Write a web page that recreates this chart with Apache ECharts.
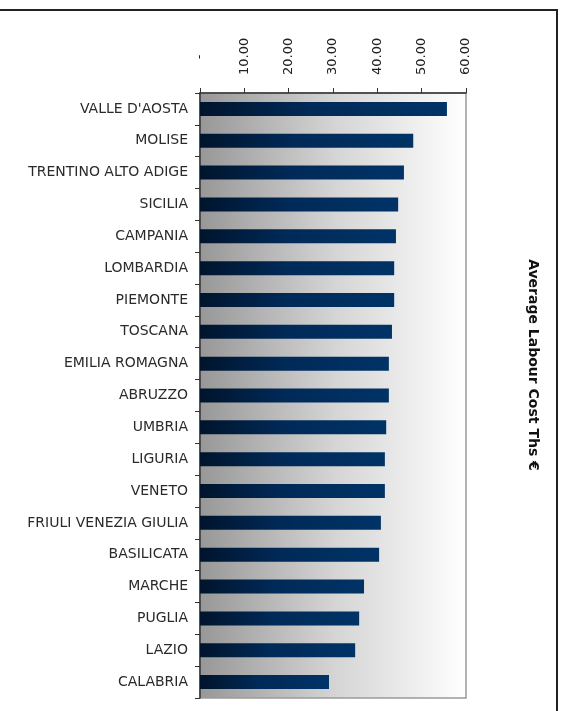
<!DOCTYPE html>
<html>
<head>
<meta charset="utf-8">
<script src="https://cdn.jsdelivr.net/npm/echarts@6/dist/echarts.min.js"></script>
<style>
  html, body { margin: 0; padding: 0; background: #fff; }
  #chart { width: 563px; height: 711px; }
</style>
</head>
<body>
<div id="chart"></div>
<script>
// regions, top to bottom
var regions = ['VALLE D\'AOSTA', 'MOLISE', 'TRENTINO ALTO ADIGE', 'SICILIA', 'CAMPANIA',
    'LOMBARDIA', 'PIEMONTE', 'TOSCANA', 'EMILIA ROMAGNA', 'ABRUZZO', 'UMBRIA',
    'LIGURIA', 'VENETO', 'FRIULI VENEZIA GIULIA', 'BASILICATA', 'MARCHE',
    'PUGLIA', 'LAZIO', 'CALABRIA'];
// average labour cost, thousands of euro
var labourCost = [55.7, 48.1, 46.0, 44.7, 44.2, 43.8, 43.8, 43.3, 42.6, 42.6,
    42.0, 41.7, 41.7, 40.8, 40.4, 37.0, 35.9, 35.0, 29.1];
var axisTitle = 'Average Labour Cost Ths \u20ac';

var chart = echarts.init(document.getElementById('chart'));

var option = {
    animation: false,
    grid: {
        left: 200,
        right: 97,
        top: 93,
        bottom: 13,
        show: true,
        borderColor: '#9a9a9a',
        borderWidth: 1.5,
        backgroundColor: new echarts.graphic.LinearGradient(0, 0, 1, 0, [
            {offset: 0, color: '#979797'},
            {offset: 0.5, color: '#d4d4d4'},
            {offset: 1, color: '#ffffff'}
        ])
    },
    xAxis: {
        type: 'value',
        position: 'top',
        min: 0,
        max: 60,
        interval: 10,
        splitLine: {show: false},
        axisLine: {show: true, lineStyle: {color: '#333', width: 1.5}},
        axisTick: {show: true, length: 5, lineStyle: {color: '#333'}},
        axisLabel: {
            rotate: -90,
            margin: 18,
            color: '#222',
            fontFamily: 'DejaVu Sans',
            fontSize: 13,
            formatter: function (v) {
                // zero shows as an accounting dash, centred in the label slot
                return v === 0 ? '{z|-}' : v.toFixed(2);
            },
            rich: {
                z: {width: 36, align: 'center', color: '#222', fontFamily: 'DejaVu Sans', fontSize: 13}
            }
        }
    },
    yAxis: {
        type: 'category',
        inverse: true,
        data: regions,
        axisLine: {show: true, lineStyle: {color: '#333', width: 1.5}},
        axisTick: {show: true, length: 5, lineStyle: {color: '#333'}},
        axisLabel: {
            margin: 12,
            color: '#2a2a2a',
            fontFamily: 'DejaVu Sans',
            fontSize: 14
        }
    },
    series: [{
        type: 'bar',
        data: labourCost,
        barWidth: 14,
        itemStyle: {
            color: new echarts.graphic.LinearGradient(0, 0, 1, 0, [
                {offset: 0, color: '#00142c'},
                {offset: 0.45, color: '#002a58'},
                {offset: 1, color: '#003366'}
            ])
        }
    }],
    graphic: [
        {
            type: 'rect',
            shape: {x: -5, y: 10, width: 562, height: 720},
            style: {fill: null, stroke: '#222', lineWidth: 2}
        },
        {
            type: 'text',
            x: 533,
            y: 365,
            rotation: -Math.PI / 2,
            style: {
                text: axisTitle,
                fill: '#111',
                font: 'bold 14px "DejaVu Sans"',
                align: 'center',
                verticalAlign: 'middle'
            }
        }
    ]
};

chart.setOption(option);
</script>
</body>
</html>
